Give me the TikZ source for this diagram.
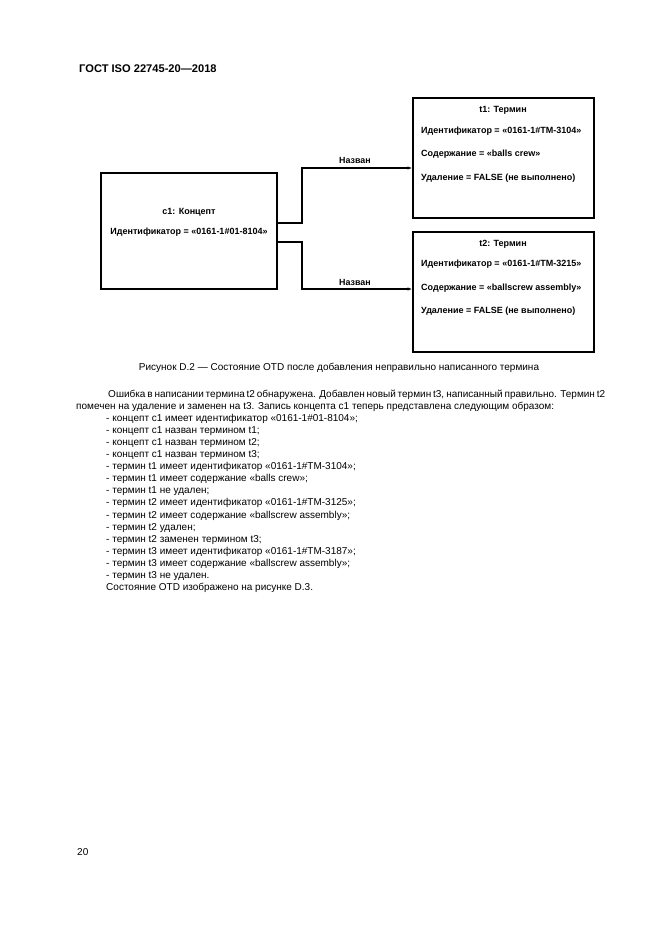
\documentclass[tikz,border=0pt]{standalone}
\usepackage{fontspec}
\setmainfont{Liberation Sans}
\usetikzlibrary{arrows.meta}

\tikzset{
  box/.style={draw, line width=1.5pt, inner sep=0pt},
  boxtext/.style={font=\fontsize{8.1}{9}\selectfont\bfseries, inner sep=0pt},
  lbl/.style={font=\fontsize{8}{9}\selectfont\bfseries, inner sep=0pt, anchor=base},
  conn/.style={-{Latex[length=4pt,width=3pt]}, line width=1.1pt},
  bodytext/.style={font=\fontsize{9}{11}\selectfont, anchor=base west, inner sep=0pt},
}

\begin{document}
\begin{tikzpicture}[x=0.9pt, y=-0.9pt]
   \useasboundingbox (0,0) rectangle (661,935);

   % page head and foot
   \node[bodytext, font=\fontsize{10}{12}\selectfont\bfseries] (head) at (79,72) {ГОСТ ISO 22745-20---2018};
   \node[bodytext] (pagenum) at (77,855) {20};

   % boxes
   \node[box, minimum width=158.4pt, minimum height=104.4pt] (c1) at (189,231) {};
   \node[box, minimum width=162.9pt, minimum height=108pt] (t1) at (503.5,158) {};
   \node[box, minimum width=162.9pt, minimum height=108pt] (t2) at (503.5,292) {};

   \node[boxtext] (c1title) at (189,212) {c1: Концепт};
   \node[boxtext] (c1id) at (189,232) {Идентификатор = «0161-1\#01-8104»};

   \node[boxtext] (t1title) at (503,110) {t1: Термин};
   \node[boxtext, anchor=west] (t1id) at (421,131) {Идентификатор = «0161-1\#TM-3104»};
   \node[boxtext, anchor=west] (t1text) at (421,154) {Содержание = «balls crew»};
   \node[boxtext, anchor=west] (t1del) at (421,178) {Удаление = FALSE (не выполнено)};

   \node[boxtext] (t2title) at (503,244) {t2: Термин};
   \node[boxtext, anchor=west] (t2id) at (421,264) {Идентификатор = «0161-1\#TM-3215»};
   \node[boxtext, anchor=west] (t2text) at (421,288) {Содержание = «ballscrew assembly»};
   \node[boxtext, anchor=west] (t2del) at (421,311) {Удаление = FALSE (не выполнено)};

   % connectors
   \draw[conn] (c1.east |- 0,223) -| (302,168) -- (t1.west |- 0,168);
   \draw[conn] (c1.east |- 0,242) -| (302,289) -- (t2.west |- 0,289);
   \node[lbl] (name1) at (355,163) {Назван};
   \node[lbl] (name2) at (355,285) {Назван};

   % caption and text
   \node[bodytext, anchor=base] (caption) at (339,370) {Рисунок D.2 --- Состояние OTD после добавления неправильно написанного термина};
   \node[bodytext] (par1) at (108,397) {\hbox to 441pt{Ошибка в написании термина t2 обнаружена. Добавлен новый термин t3, написанный правильно. Термин t2}};
   \node[bodytext] (par2) at (76,409.1) {помечен на удаление и заменен на t3. Запись концепта c1 теперь представлена следующим образом:};

   \foreach \txt [count=\i] in {
      {- концепт c1 имеет идентификатор «0161-1\#01-8104»;},
      {- концепт c1 назван термином t1;},
      {- концепт c1 назван термином t2;},
      {- концепт c1 назван термином t3;},
      {- термин t1 имеет идентификатор «0161-1\#TM-3104»;},
      {- термин t1 имеет содержание «balls crew»;},
      {- термин t1 не удален;},
      {- термин t2 имеет идентификатор «0161-1\#TM-3125»;},
      {- термин t2 имеет содержание «ballscrew assembly»;},
      {- термин t2 удален;},
      {- термин t2 заменен термином t3;},
      {- термин t3 имеет идентификатор «0161-1\#TM-3187»;},
      {- термин t3 имеет содержание «ballscrew assembly»;},
      {- термин t3 не удален.},
      {Состояние OTD изображено на рисунке D.3.}}
   \node[bodytext] (line\i) at (106,{409.1+12.1*\i}) {\txt};

\end{tikzpicture}
\end{document}
